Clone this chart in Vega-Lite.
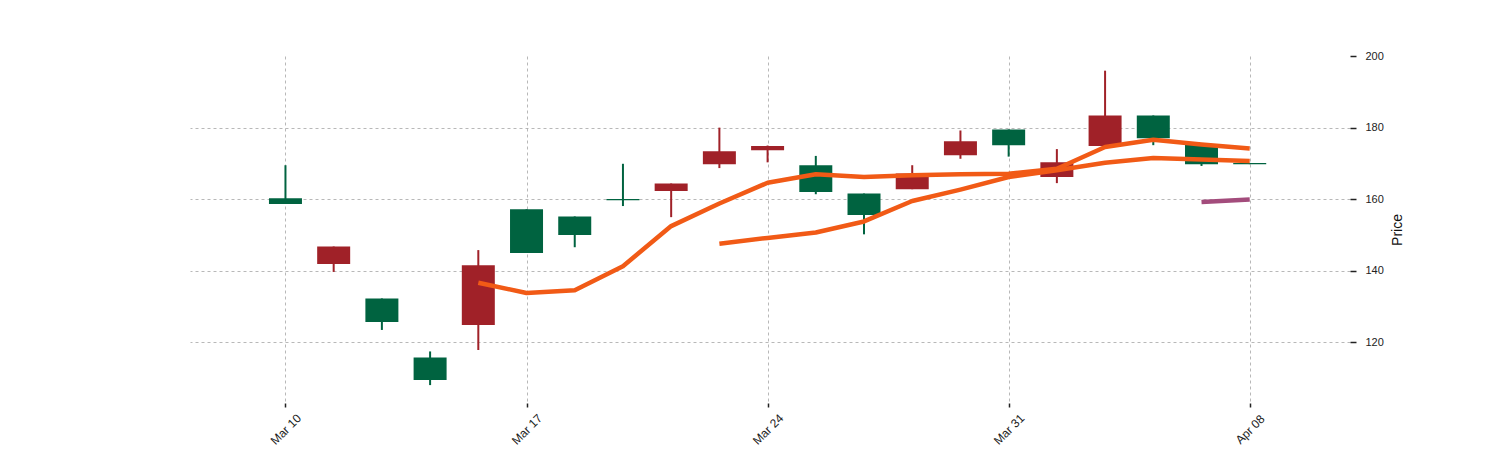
{
  "$schema": "https://vega.github.io/schema/vega-lite/v6.json",
  "width": 1160,
  "height": 347,
  "autosize": {"type": "none"},
  "padding": {"left": 190, "top": 56, "right": 150, "bottom": 47},
  "background": "white",
  "config": {
    "view": {"stroke": null},
    "axis": {
      "domain": false,
      "grid": true,
      "gridColor": "#a6a6a6",
      "gridDash": [3, 3],
      "gridWidth": 0.8,
      "tickColor": "#222222",
      "tickWidth": 1.5,
      "labelFont": "Liberation Sans",
      "labelFontSize": 11,
      "labelColor": "#222222",
      "titleFont": "Liberation Sans",
      "titleFontWeight": "normal",
      "titleFontSize": 14,
      "titleColor": "#111111"
    }
  },
  "datasets": {
    "candles": [
      {"i": 0, "open": 158.7, "close": 160.3, "high": 169.5, "low": 158.7, "dir": "up"},
      {"i": 1, "open": 146.8, "close": 141.9, "high": 146.8, "low": 139.7, "dir": "down"},
      {"i": 2, "open": 125.7, "close": 132.3, "high": 132.3, "low": 123.5, "dir": "up"},
      {"i": 3, "open": 109.5, "close": 115.8, "high": 117.5, "low": 108.1, "dir": "up"},
      {"i": 4, "open": 141.6, "close": 124.9, "high": 145.8, "low": 117.9, "dir": "down"},
      {"i": 5, "open": 145.0, "close": 157.2, "high": 157.2, "low": 145.0, "dir": "up"},
      {"i": 6, "open": 150.0, "close": 155.2, "high": 155.2, "low": 146.6, "dir": "up"},
      {"i": 7, "open": 159.7, "close": 160.1, "high": 169.9, "low": 158.1, "dir": "up"},
      {"i": 8, "open": 164.4, "close": 162.3, "high": 164.4, "low": 155.0, "dir": "down"},
      {"i": 9, "open": 173.4, "close": 169.8, "high": 180.0, "low": 168.7, "dir": "down"},
      {"i": 10, "open": 174.9, "close": 173.7, "high": 175.0, "low": 170.3, "dir": "down"},
      {"i": 11, "open": 162.0, "close": 169.5, "high": 172.1, "low": 161.4, "dir": "up"},
      {"i": 12, "open": 155.6, "close": 161.6, "high": 161.6, "low": 150.2, "dir": "up"},
      {"i": 13, "open": 167.2, "close": 162.8, "high": 169.5, "low": 162.8, "dir": "down"},
      {"i": 14, "open": 176.2, "close": 172.3, "high": 179.2, "low": 171.3, "dir": "down"},
      {"i": 15, "open": 175.1, "close": 179.5, "high": 179.5, "low": 171.9, "dir": "up"},
      {"i": 16, "open": 170.3, "close": 166.2, "high": 174.0, "low": 164.5, "dir": "down"},
      {"i": 17, "open": 183.4, "close": 174.9, "high": 195.9, "low": 174.9, "dir": "down"},
      {"i": 18, "open": 177.0, "close": 183.4, "high": 183.4, "low": 175.1, "dir": "up"},
      {"i": 19, "open": 169.8, "close": 175.2, "high": 175.2, "low": 169.3, "dir": "up"},
      {"i": 20, "open": 169.8, "close": 170.15, "high": 170.15, "low": 169.8, "dir": "up"}
    ],
    "ma": [
      {"i": 4, "v": 136.7, "s": "ma5"},
      {"i": 5, "v": 133.8, "s": "ma5"},
      {"i": 6, "v": 134.6, "s": "ma5"},
      {"i": 7, "v": 141.3, "s": "ma5"},
      {"i": 8, "v": 152.5, "s": "ma5"},
      {"i": 9, "v": 158.8, "s": "ma5"},
      {"i": 10, "v": 164.6, "s": "ma5"},
      {"i": 11, "v": 167.0, "s": "ma5"},
      {"i": 12, "v": 166.2, "s": "ma5"},
      {"i": 13, "v": 166.7, "s": "ma5"},
      {"i": 14, "v": 167.0, "s": "ma5"},
      {"i": 15, "v": 167.1, "s": "ma5"},
      {"i": 16, "v": 168.5, "s": "ma5"},
      {"i": 17, "v": 174.6, "s": "ma5"},
      {"i": 18, "v": 176.6, "s": "ma5"},
      {"i": 19, "v": 175.3, "s": "ma5"},
      {"i": 20, "v": 174.2, "s": "ma5"},
      {"i": 9, "v": 147.6, "s": "ma10"},
      {"i": 10, "v": 149.2, "s": "ma10"},
      {"i": 11, "v": 150.7, "s": "ma10"},
      {"i": 12, "v": 153.8, "s": "ma10"},
      {"i": 13, "v": 159.5, "s": "ma10"},
      {"i": 14, "v": 162.7, "s": "ma10"},
      {"i": 15, "v": 166.2, "s": "ma10"},
      {"i": 16, "v": 168.1, "s": "ma10"},
      {"i": 17, "v": 170.2, "s": "ma10"},
      {"i": 18, "v": 171.5, "s": "ma10"},
      {"i": 19, "v": 171.1, "s": "ma10"},
      {"i": 20, "v": 170.7, "s": "ma10"},
      {"i": 19, "v": 159.2, "s": "ma20"},
      {"i": 20, "v": 159.9, "s": "ma20"}
    ]
  },
  "layer": [
    {
      "data": {"name": "candles"},
      "mark": {"type": "rule", "strokeWidth": 2},
      "encoding": {
        "x": {
          "field": "i", "type": "quantitative",
          "scale": {"domain": [-1.98, 22.08], "nice": false, "zero": false, "padding": 0},
          "axis": {
            "values": [0, 5, 10, 15, 20],
            "labelExpr": "['Mar 10','Mar 17','Mar 24','Mar 31','Apr 08'][datum.value/5]",
            "labelAngle": -45,
            "labelAlign": "center",
            "labelBaseline": "middle",
            "labelPadding": 22,
            "labelFontSize": 12,
            "tickSize": 4,
            "title": null
          }
        },
        "y": {
          "field": "low", "type": "quantitative",
          "scale": {"domain": [103.1, 200], "nice": false, "zero": false, "padding": 0},
          "axis": {
            "orient": "right",
            "values": [120, 140, 160, 180, 200],
            "gridOpacity": {"condition": {"test": "datum.value >= 200", "value": 0}, "value": 1},
            "title": "Price",
            "titleAngle": 270,
            "titlePadding": 21,
            "tickSize": 6,
            "labelPadding": 9
          }
        },
        "y2": {"field": "high"},
        "color": {
          "field": "dir", "type": "nominal",
          "scale": {"domain": ["up", "down"], "range": ["#006340", "#a02128"]},
          "legend": null
        }
      }
    },
    {
      "data": {"name": "candles"},
      "mark": {"type": "bar", "size": 33, "cornerRadius": 0},
      "encoding": {
        "x": {"field": "i", "type": "quantitative"},
        "y": {"field": "open", "type": "quantitative"},
        "y2": {"field": "close"},
        "color": {"field": "dir", "type": "nominal", "legend": null}
      }
    },
    {
      "data": {"name": "ma"},
      "mark": {"type": "line", "strokeWidth": 4.5, "strokeCap": "butt", "strokeJoin": "round"},
      "encoding": {
        "x": {"field": "i", "type": "quantitative"},
        "y": {"field": "v", "type": "quantitative"},
        "detail": {"field": "s"},
        "stroke": {
          "field": "s", "type": "nominal",
          "scale": {"domain": ["ma5", "ma10", "ma20"], "range": ["#f15a16", "#f15a16", "#a34c7c"]},
          "legend": null
        }
      }
    }
  ]
}
